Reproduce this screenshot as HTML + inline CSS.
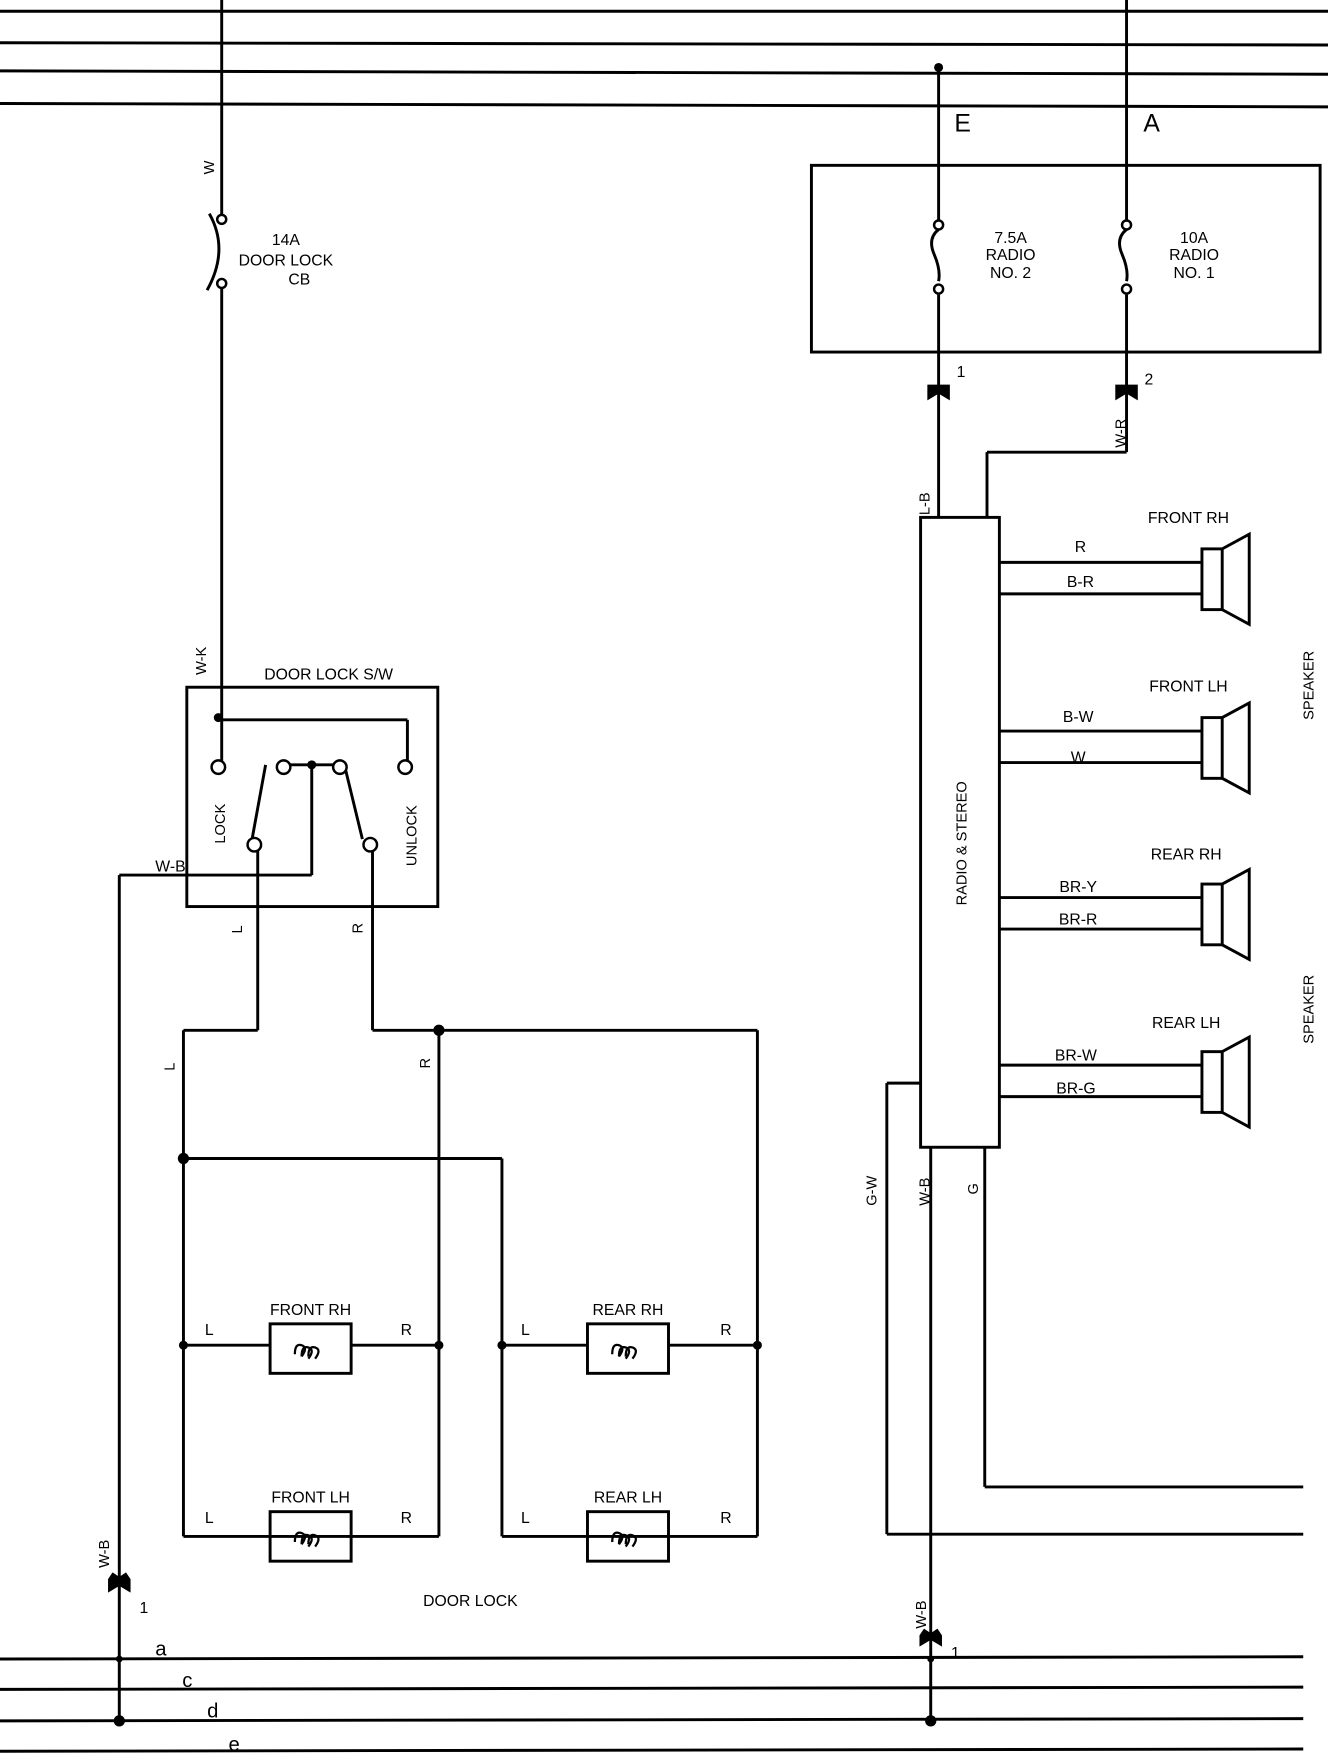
<!DOCTYPE html>
<html><head><style>html,body{margin:0;padding:0;background:#fff;width:1328px;height:1758px;overflow:hidden}svg{display:block}text{font-family:"Liberation Sans",sans-serif;fill:#000}</style></head><body>
<svg width="1328" height="1758" viewBox="0 0 1180 1563" preserveAspectRatio="none" xmlns="http://www.w3.org/2000/svg">
<g stroke="#000" stroke-width="2.6" fill="none" stroke-linejoin="miter">
<!-- top bus -->
<line x1="0" y1="10" x2="1180" y2="10"/><line x1="0" y1="38" x2="1180" y2="40"/><line x1="0" y1="63" x2="1180" y2="66"/><line x1="0" y1="92" x2="1180" y2="95"/>
<!-- bottom bus -->
<line x1="0" y1="1475" x2="1158" y2="1473"/><line x1="0" y1="1502" x2="1158" y2="1500"/><line x1="0" y1="1530" x2="1158" y2="1528"/><line x1="0" y1="1557" x2="1158" y2="1555"/>
<!-- left supply -->
<line x1="197" y1="0" x2="197" y2="192"/>
<path d="M186 190 Q204 222 184 258"/>
<line x1="197" y1="256" x2="197" y2="680"/>
<line x1="197" y1="640" x2="362" y2="640"/><line x1="362" y1="640" x2="362" y2="678"/>
<rect x="166" y="611" width="223" height="195"/>
<line x1="236" y1="680" x2="224" y2="746"/><line x1="306" y1="680" x2="322" y2="746"/>
<line x1="258" y1="680" x2="298" y2="680"/>
<line x1="277" y1="680" x2="277" y2="778"/><line x1="277" y1="778" x2="106" y2="778"/><line x1="106" y1="778" x2="106" y2="1530"/>
<line x1="229" y1="756" x2="229" y2="916"/><line x1="229" y1="916" x2="163" y2="916"/>
<line x1="331" y1="756" x2="331" y2="916"/><line x1="331" y1="916" x2="673" y2="916"/><line x1="673" y1="916" x2="673" y2="1366"/>
<line x1="163" y1="916" x2="163" y2="1366"/><line x1="163" y1="1366" x2="390" y2="1366"/><line x1="390" y1="916" x2="390" y2="1366"/>
<line x1="163" y1="1030" x2="446" y2="1030"/><line x1="446" y1="1030" x2="446" y2="1366"/><line x1="446" y1="1366" x2="673" y2="1366"/>
<line x1="163" y1="1196" x2="240" y2="1196"/><line x1="312" y1="1196" x2="390" y2="1196"/>
<line x1="446" y1="1196" x2="522" y2="1196"/><line x1="594" y1="1196" x2="673" y2="1196"/>
<rect x="240" y="1177" width="72" height="44"/><rect x="522" y="1177" width="72" height="44"/>
<rect x="240" y="1344" width="72" height="44"/><rect x="522" y="1344" width="72" height="44"/>
<!-- coils -->
<path d="M262 1204 q0 -10 6 -8 q6 2 0 10 M268 1206 q0 -10 6 -8 q6 2 0 10 M274 1206 q0 -10 6 -8 q6 2 0 10" stroke-width="2"/>
<path d="M544 1204 q0 -10 6 -8 q6 2 0 10 M550 1206 q0 -10 6 -8 q6 2 0 10 M556 1206 q0 -10 6 -8 q6 2 0 10" stroke-width="2"/>
<path d="M262 1371 q0 -10 6 -8 q6 2 0 10 M268 1373 q0 -10 6 -8 q6 2 0 10 M274 1373 q0 -10 6 -8 q6 2 0 10" stroke-width="2"/>
<path d="M544 1371 q0 -10 6 -8 q6 2 0 10 M550 1373 q0 -10 6 -8 q6 2 0 10 M556 1373 q0 -10 6 -8 q6 2 0 10" stroke-width="2"/>
<!-- right -->
<line x1="834" y1="60" x2="834" y2="196"/><path d="M834 204 q-10 8 -4 22 q6 14 4 24"/><line x1="834" y1="262" x2="834" y2="460"/>
<line x1="1001" y1="0" x2="1001" y2="196"/><path d="M1001 204 q-10 8 -4 22 q6 14 4 24"/><line x1="1001" y1="262" x2="1001" y2="402"/>
<line x1="1001" y1="402" x2="877" y2="402"/><line x1="877" y1="402" x2="877" y2="460"/>
<rect x="721" y="147" width="452" height="166"/>
<rect x="818" y="460" width="70" height="560"/>
<line x1="888" y1="500" x2="1068" y2="500"/><line x1="888" y1="528" x2="1068" y2="528"/>
<line x1="888" y1="650" x2="1068" y2="650"/><line x1="888" y1="678" x2="1068" y2="678"/>
<line x1="888" y1="798" x2="1068" y2="798"/><line x1="888" y1="826" x2="1068" y2="826"/>
<line x1="888" y1="947" x2="1068" y2="947"/><line x1="888" y1="975" x2="1068" y2="975"/>
<rect x="1068" y="488" width="18" height="54"/><path d="M1086 488 L1110 475 L1110 555 L1086 542"/>
<rect x="1068" y="638" width="18" height="54"/><path d="M1086 638 L1110 625 L1110 705 L1086 692"/>
<rect x="1068" y="786" width="18" height="54"/><path d="M1086 786 L1110 773 L1110 853 L1086 840"/>
<rect x="1068" y="935" width="18" height="54"/><path d="M1086 935 L1110 922 L1110 1002 L1086 989"/>
<line x1="818" y1="963" x2="788" y2="963"/><line x1="788" y1="963" x2="788" y2="1364"/><line x1="788" y1="1364" x2="1158" y2="1364"/>
<line x1="875" y1="1020" x2="875" y2="1322"/><line x1="875" y1="1322" x2="1158" y2="1322"/>
<line x1="827" y1="1020" x2="827" y2="1530"/>
</g>
<g fill="#fff" stroke="#000" stroke-width="2.2">
<circle cx="197" cy="195" r="4"/><circle cx="197" cy="252" r="4"/>
<circle cx="834" cy="200" r="4"/><circle cx="834" cy="257" r="4"/><circle cx="1001" cy="200" r="4"/><circle cx="1001" cy="257" r="4"/>
<circle cx="194" cy="682" r="6"/><circle cx="252" cy="682" r="6"/><circle cx="302" cy="682" r="6"/><circle cx="360" cy="682" r="6"/>
<circle cx="226" cy="751" r="6"/><circle cx="329" cy="751" r="6"/>
</g>
<g fill="#000">
<circle cx="834" cy="60" r="4"/><circle cx="194" cy="638" r="4"/><circle cx="277" cy="680" r="4"/>
<circle cx="390" cy="916" r="5"/><circle cx="163" cy="1030" r="5"/>
<circle cx="163" cy="1196" r="4"/><circle cx="390" cy="1196" r="4"/><circle cx="446" cy="1196" r="4"/><circle cx="673" cy="1196" r="4"/>
<circle cx="106" cy="1530" r="5"/><circle cx="827" cy="1530" r="5"/><circle cx="106" cy="1475" r="3"/><circle cx="827" cy="1475" r="3"/>
<path d="M824 342 L844 342 L844 356 L834 350 L824 356Z"/><path d="M991 342 L1011 342 L1011 356 L1001 350 L991 356Z"/>
<path d="M96 1404 L100 1398 L106 1402 L112 1398 L116 1404 L116 1416 L106 1410 L96 1416Z"/>
<path d="M817 1454 L821 1448 L827 1452 L833 1448 L837 1454 L837 1464 L827 1458 L817 1464Z"/>
</g>
<g font-size="14">
<text x="848" y="117" font-size="22">E</text><text x="1016" y="117" font-size="22">A</text>
<text x="254" y="218" text-anchor="middle">14A</text><text x="254" y="236" text-anchor="middle">DOOR LOCK</text><text x="266" y="253" text-anchor="middle">CB</text>
<text x="898" y="216" text-anchor="middle">7.5A</text><text x="898" y="231" text-anchor="middle">RADIO</text><text x="898" y="247" text-anchor="middle">NO. 2</text>
<text x="1061" y="216" text-anchor="middle">10A</text><text x="1061" y="231" text-anchor="middle">RADIO</text><text x="1061" y="247" text-anchor="middle">NO. 1</text>
<text x="850" y="335">1</text><text x="1017" y="342">2</text>
<text x="1056" y="465" text-anchor="middle">FRONT RH</text><text x="1056" y="615" text-anchor="middle">FRONT LH</text>
<text x="1054" y="764" text-anchor="middle">REAR RH</text><text x="1054" y="914" text-anchor="middle">REAR LH</text>
<text x="960" y="491" text-anchor="middle">R</text><text x="960" y="522" text-anchor="middle">B-R</text>
<text x="958" y="642" text-anchor="middle">B-W</text><text x="958" y="678" text-anchor="middle">W</text>
<text x="958" y="793" text-anchor="middle">BR-Y</text><text x="958" y="822" text-anchor="middle">BR-R</text>
<text x="956" y="943" text-anchor="middle">BR-W</text><text x="956" y="972" text-anchor="middle">BR-G</text>
<text x="292" y="604" text-anchor="middle">DOOR LOCK S/W</text>
<text x="138" y="775">W-B</text>
<text x="182" y="1187">L</text><text x="356" y="1187">R</text><text x="276" y="1169" text-anchor="middle">FRONT RH</text>
<text x="463" y="1187">L</text><text x="640" y="1187">R</text><text x="558" y="1169" text-anchor="middle">REAR RH</text>
<text x="182" y="1354">L</text><text x="356" y="1354">R</text><text x="276" y="1336" text-anchor="middle">FRONT LH</text>
<text x="463" y="1354">L</text><text x="640" y="1354">R</text><text x="558" y="1336" text-anchor="middle">REAR LH</text>
<text x="418" y="1428" text-anchor="middle">DOOR LOCK</text>
<text x="124" y="1434">1</text><text x="845" y="1474">1</text>
<text x="138" y="1472" font-size="18">a</text><text x="162" y="1500" font-size="18">c</text><text x="184" y="1527" font-size="18">d</text><text x="203" y="1557" font-size="18">e</text>
</g>
<g font-size="13">
<text transform="translate(190,155) rotate(-90)">W</text>
<text transform="translate(183,600) rotate(-90)">W-K</text>
<text transform="translate(200,750) rotate(-90)">LOCK</text>
<text transform="translate(370,770) rotate(-90)">UNLOCK</text>
<text transform="translate(215,830) rotate(-90)">L</text><text transform="translate(322,830) rotate(-90)">R</text>
<text transform="translate(155,952) rotate(-90)">L</text><text transform="translate(382,950) rotate(-90)">R</text>
<text transform="translate(97,1394) rotate(-90)">W-B</text>
<text transform="translate(826,458) rotate(-90)">L-B</text>
<text transform="translate(1000,398) rotate(-90)">W-R</text>
<text transform="translate(859,805) rotate(-90)">RADIO &amp; STEREO</text>
<text transform="translate(1167,640) rotate(-90)">SPEAKER</text><text transform="translate(1167,928) rotate(-90)">SPEAKER</text>
<text transform="translate(779,1072) rotate(-90)">G-W</text><text transform="translate(826,1072) rotate(-90)">W-B</text><text transform="translate(869,1062) rotate(-90)">G</text>
<text transform="translate(823,1448) rotate(-90)">W-B</text>
</g>
</svg>
</body></html>
